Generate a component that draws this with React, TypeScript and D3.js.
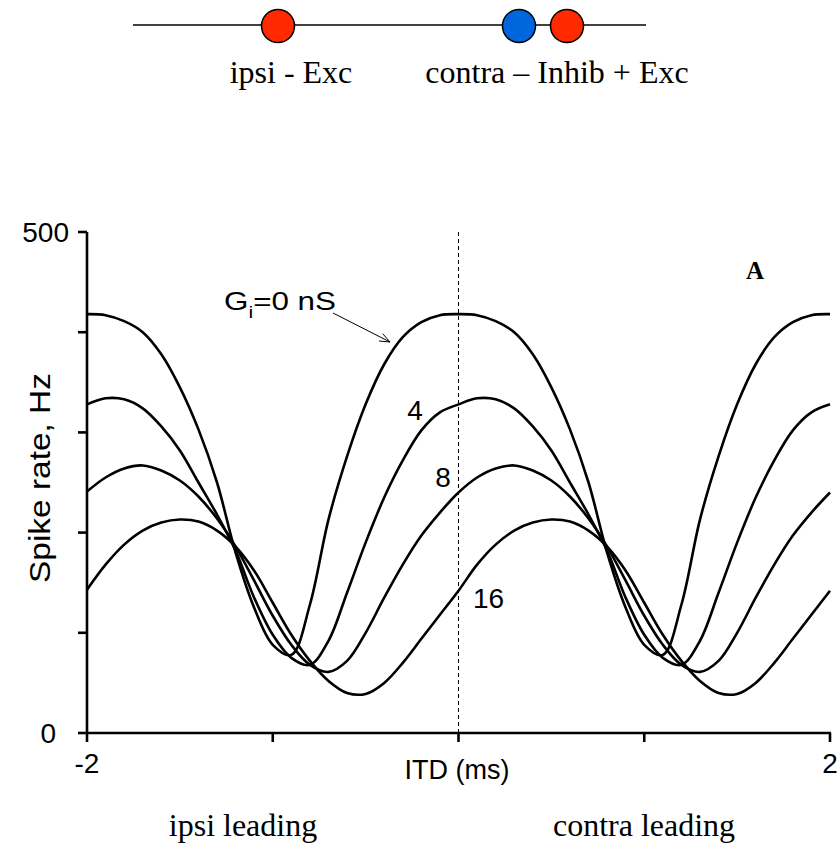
import React from "react";
import * as d3 from "d3";

const itd = [
  -2.0, -1.9, -1.8, -1.7, -1.6, -1.5, -1.4, -1.3, -1.2, -1.1, -1.0, -0.9, -0.8, -0.7, -0.6, -0.5, -0.4, -0.3, -0.2, -0.1,
  0.0, 0.1, 0.2, 0.3, 0.4, 0.5, 0.6, 0.7, 0.8, 0.9, 1.0, 1.1, 1.2, 1.3, 1.4, 1.5, 1.6, 1.7, 1.8, 1.9, 2.0,
];

const g0 = [
  418, 417, 411, 400, 378, 345, 303, 250, 180, 125, 88, 78, 128, 213, 276, 328, 368, 395, 410, 417,
  418, 417, 411, 400, 378, 345, 303, 250, 180, 125, 88, 78, 128, 213, 276, 328, 368, 395, 410, 417, 418,
];
const g4 = [
  328, 334, 333, 324, 306, 282, 250, 218, 182, 135, 98, 75, 68, 92, 140, 190, 235, 272, 302, 320,
  328, 334, 333, 324, 306, 282, 250, 218, 182, 135, 98, 75, 68, 92, 140, 190, 235, 272, 302, 320, 328,
];
const g8 = [
  241, 255, 264, 267, 262, 252, 236, 214, 186, 152, 117, 88, 68, 61, 72, 100, 135, 168, 197, 220,
  240, 255, 264, 267, 262, 252, 236, 214, 186, 152, 117, 88, 68, 61, 72, 100, 135, 168, 197, 220, 240,
];
const g16 = [
  143, 168, 188, 202, 210, 213, 211, 202, 186, 162, 130, 98, 72, 52, 40, 39, 50, 70, 94, 118,
  142, 168, 188, 202, 210, 213, 211, 202, 186, 162, 130, 98, 72, 52, 40, 39, 50, 70, 94, 118, 142,
];

const seriesList = [g0, g4, g8, g16];

const yTicks = [0, 100, 200, 300, 400, 500];
const xTicks = [-2, -1, 0, 1, 2];

const sans = "'Liberation Sans', Arial, sans-serif";
const serif = "'Liberation Serif', 'Times New Roman', serif";

export default function App() {
  const x = d3.scaleLinear().domain([-2, 2]).range([87, 830]);
  const y = d3.scaleLinear().domain([0, 500]).range([733, 232]);

  const line = d3
    .line<number>()
    .x((_, i) => x(itd[i]))
    .y((d) => y(d))
    .curve(d3.curveCatmullRom.alpha(0.5));

  // arrow from label to G0 curve
  const ax1 = 333, ay1 = 313, ax2 = 390, ay2 = 342;
  const ang = Math.atan2(ay2 - ay1, ax2 - ax1);
  const ah = 11, aw = 0.38;
  const h1x = ax2 - ah * Math.cos(ang - aw), h1y = ay2 - ah * Math.sin(ang - aw);
  const h2x = ax2 - ah * Math.cos(ang + aw), h2y = ay2 - ah * Math.sin(ang + aw);

  return (
    <svg
      width={840}
      height={843}
      style={{ position: "absolute", left: 0, top: 0, background: "#fff" }}
    >
      <rect x={0} y={0} width={840} height={843} fill="#fff" />

      {/* top schematic */}
      <line x1={133} x2={646} y1={25} y2={25} stroke="#000" strokeWidth={1.5} />
      <circle cx={278} cy={26} r={16.5} fill="#ff2a00" stroke="#000" strokeWidth={1.5} />
      <circle cx={519} cy={26} r={16.5} fill="#0066dd" stroke="#000" strokeWidth={1.5} />
      <circle cx={567} cy={26} r={16.5} fill="#ff2a00" stroke="#000" strokeWidth={1.5} />
      <text x={291} y={83} fontFamily={serif} fontSize={32} textAnchor="middle">ipsi - Exc</text>
      <text x={557} y={83} fontFamily={serif} fontSize={32} textAnchor="middle">contra – Inhib + Exc</text>

      {/* dashed zero line */}
      <line x1={x(0)} x2={x(0)} y1={y(500)} y2={y(0)} stroke="#000" strokeWidth={1} strokeDasharray="4,3" />

      {/* curves */}
      {seriesList.map((s, k) => (
        <path key={k} d={line(s) || ""} fill="none" stroke="#000" strokeWidth={2.6} strokeLinejoin="round" />
      ))}

      {/* axes */}
      <line x1={x(-2)} x2={x(-2)} y1={y(500)} y2={y(0) + 1} stroke="#000" strokeWidth={2.6} />
      <line x1={x(-2) - 1} x2={x(2) + 1} y1={y(0)} y2={y(0)} stroke="#000" strokeWidth={2.6} />
      {yTicks.map((t) => (
        <line key={"yt" + t} x1={x(-2) - 9} x2={x(-2)} y1={y(t)} y2={y(t)} stroke="#000" strokeWidth={2.6} />
      ))}
      {xTicks.map((t) => (
        <line key={"xt" + t} x1={x(t)} x2={x(t)} y1={y(0)} y2={y(0) + 9} stroke="#000" strokeWidth={2.6} />
      ))}

      <text x={69} y={y(500) + 10} fontFamily={sans} fontSize={28} textAnchor="end">500</text>
      <text x={56} y={y(0) + 10} fontFamily={sans} fontSize={28} textAnchor="end">0</text>
      <text x={x(-2)} y={773} fontFamily={sans} fontSize={28} textAnchor="middle">-2</text>
      <text x={x(2)} y={773} fontFamily={sans} fontSize={28} textAnchor="middle">2</text>
      <text x={457} y={779} fontFamily={sans} fontSize={27} textAnchor="middle">ITD (ms)</text>

      <text
        transform="translate(50,478) rotate(-90)"
        fontFamily={sans}
        fontSize={29}
        textAnchor="middle"
        textLength={210}
        lengthAdjust="spacingAndGlyphs"
      >
        Spike rate, Hz
      </text>

      {/* annotations */}
      <text x={224} y={310} fontFamily={sans} fontSize={25} textLength={112} lengthAdjust="spacingAndGlyphs">
        G
        <tspan fontSize={17} dy={8}>i</tspan>
        <tspan dy={-8}>=0 nS</tspan>
      </text>
      <line x1={ax1} y1={ay1} x2={ax2} y2={ay2} stroke="#000" strokeWidth={1} />
      <polyline points={`${h1x},${h1y} ${ax2},${ay2} ${h2x},${h2y}`} fill="none" stroke="#000" strokeWidth={1} />

      <text x={415} y={420} fontFamily={sans} fontSize={28} textAnchor="middle">4</text>
      <text x={443} y={487} fontFamily={sans} fontSize={28} textAnchor="middle">8</text>
      <text x={473} y={608} fontFamily={sans} fontSize={28}>16</text>

      <text x={755} y={279} fontFamily={serif} fontSize={25} fontWeight="bold" textAnchor="middle">A</text>

      {/* bottom labels */}
      <text x={243} y={836} fontFamily={serif} fontSize={32} textAnchor="middle">ipsi leading</text>
      <text x={644} y={836} fontFamily={serif} fontSize={32} textAnchor="middle">contra leading</text>
    </svg>
  );
}
